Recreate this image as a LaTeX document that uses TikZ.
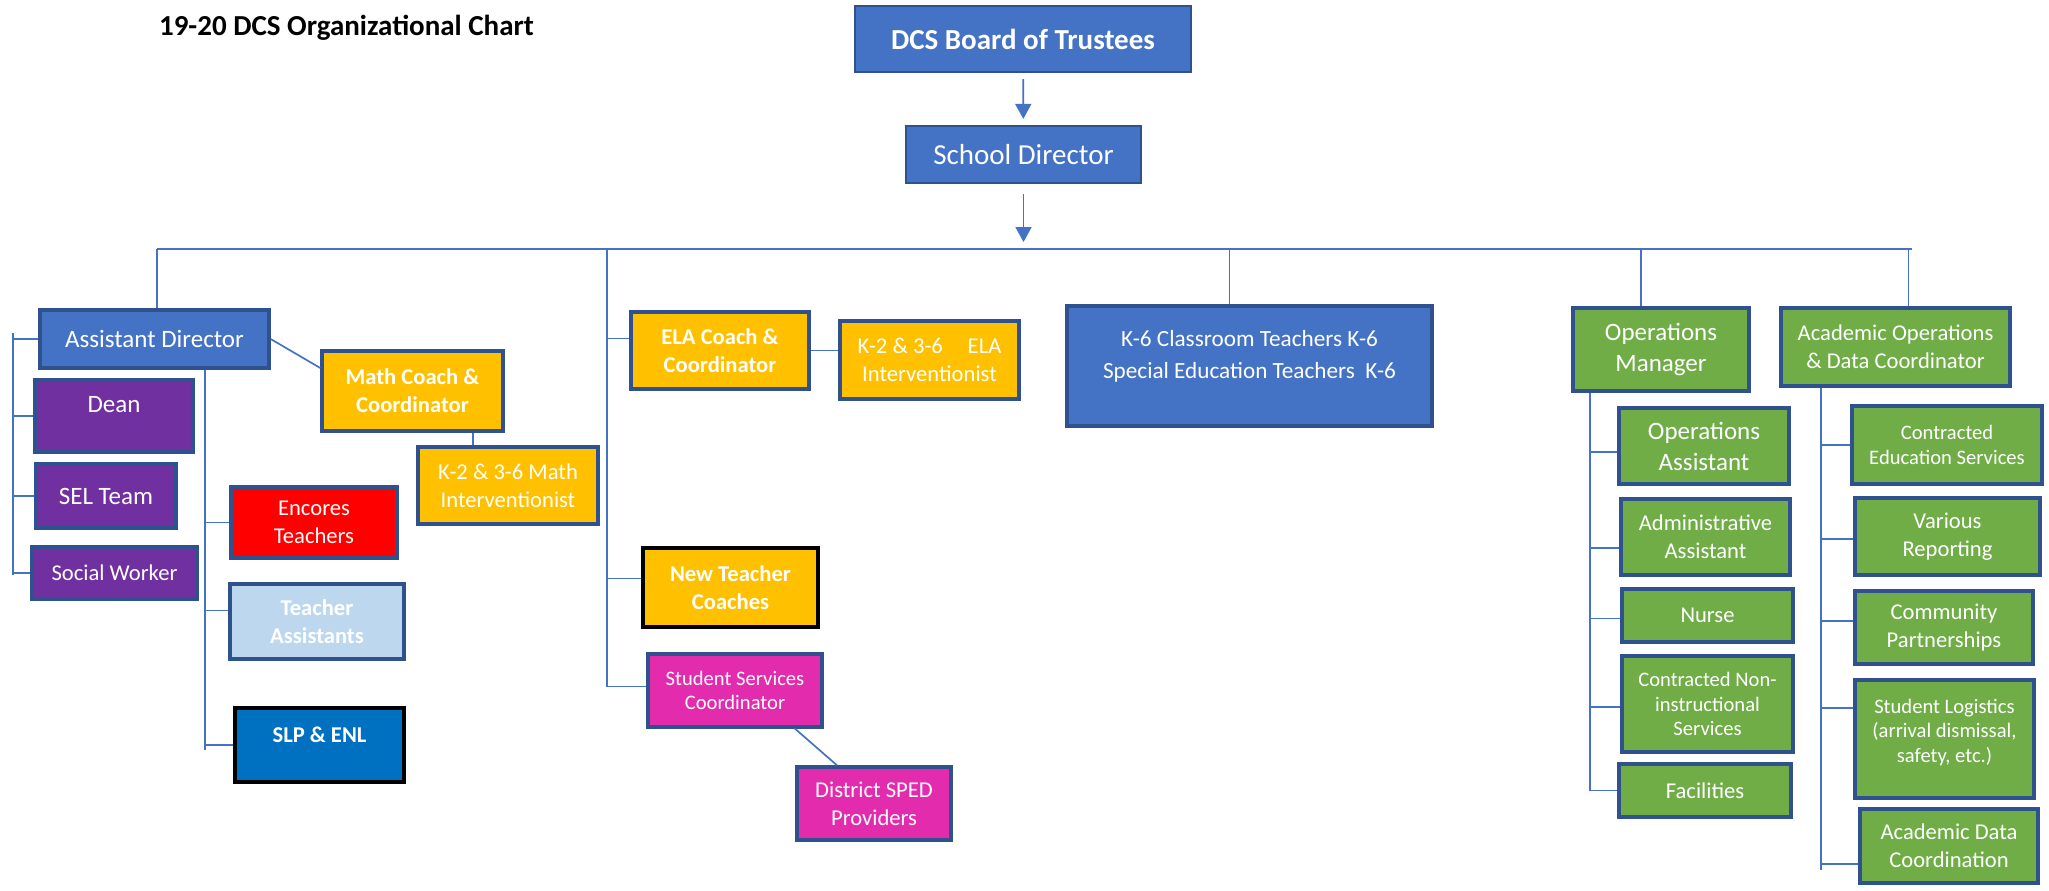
\documentclass[tikz,border=0pt]{standalone}
\usepackage{fontspec}
\setmainfont{Carlito}
\usetikzlibrary{arrows.meta}

\definecolor{ofblue}{HTML}{4472C4}
\definecolor{ofline}{HTML}{2F528F}
\definecolor{ofpurple}{HTML}{7030A0}
\definecolor{ofgold}{HTML}{FFC000}
\definecolor{ofred}{HTML}{FF0000}
\definecolor{ofpale}{HTML}{BDD7EE}
\definecolor{ofdeep}{HTML}{0070C0}
\definecolor{ofpink}{HTML}{E32BAE}
\definecolor{ofgreen}{HTML}{70AD47}

\tikzset{
  box/.style={draw=ofline, line width=1.7pt, inner sep=0pt, text=white, align=center},
  boxsize/.style 2 args={minimum width=#1pt, minimum height=#2pt},
  topbox/.style={box, fill=ofblue, line width=1.1pt},
  darkedge/.style={draw=black, line width=2.1pt},
  txtbig/.style={font=\fontsize{14.5}{18}\selectfont},
  txtbigb/.style={font=\fontsize{14.5}{18}\selectfont\bfseries},
  txtmid/.style={font=\fontsize{12.5}{15.5}\selectfont},
  txtnorm/.style={font=\fontsize{11.3}{14}\selectfont},
  txtnormb/.style={font=\fontsize{11.3}{14}\selectfont\bfseries},
  txtsmall/.style={font=\fontsize{10.3}{12.3}\selectfont},
  link/.style={draw=ofblue, line width=0.85pt},
  arr/.style={link, -{Triangle[width=8pt,length=7.5pt]}},
}

\begin{document}
\begin{tikzpicture}[x=0.5pt, y=-0.5pt]
  \useasboundingbox (0,0) rectangle (2049,890);

  % Title
  \node[anchor=base west, txtbigb] (title) at (152,35) {19-20 DCS Organizational Chart};

  % Board and director
  \node[topbox, boxsize={168}{33}, txtbigb] (board) at (1023,39) {DCS Board of Trustees};
  \node[topbox, boxsize={117.5}{28.5}, txtbig] (director) at (1023.5,154.5) {School Director};

  % Assistant director branch
  \node[box, fill=ofblue, boxsize={114.5}{29}, txtmid] (asstdir) at (154.5,339) {Assistant Director};
  \node[box, fill=ofpurple, boxsize={79}{36}, txtmid] (dean) at (114,416) {Dean\\[-4pt]\mbox{}};
  \node[box, fill=ofpurple, boxsize={70}{32}, txtmid] (sel) at (106,496) {SEL Team};
  \node[box, fill=ofpurple, boxsize={82.5}{26}, txtnorm] (social) at (114.5,573) {Social Worker};
  \node[box, fill=ofred, boxsize={83}{35.5}, txtnorm] (encores) at (314,522.5) {Encores\\Teachers};
  \node[box, fill=ofpale, boxsize={87}{37.5}, txtnormb] (teachasst) at (317,621.5) {Teacher\\Assistants};
  \node[box, fill=ofdeep, darkedge, boxsize={84.5}{37}, txtnormb] (slp) at (319.5,745) {SLP \& ENL\\[-4pt]\mbox{}};
  \node[box, fill=ofgold, boxsize={90.5}{40}, txtnormb] (mathcoach) at (412.5,391) {Math Coach \&\\Coordinator};
  \node[box, fill=ofgold, boxsize={90}{38.5}, txtnorm] (mathint) at (508,485.5) {K-2 \& 3-6 Math\\Interventionist};

  % Middle branch
  \node[box, fill=ofgold, boxsize={89}{38.5}, txtnormb] (elacoach) at (720,350.5) {ELA Coach \&\\Coordinator};
  \node[box, fill=ofgold, boxsize={89.5}{39}, txtnorm] (elaint) at (929.5,360) {K-2 \& 3-6\hspace{1.1em}ELA\\Interventionist};
  \node[box, fill=ofgold, darkedge, boxsize={87.5}{39.5}, txtnormb] (newteach) at (730.5,587.5) {New Teacher\\Coaches};
  \node[box, fill=ofpink, boxsize={87}{36.5}, txtsmall] (sscoord) at (735,690.5) {Student Services\\Coordinator};
  \node[box, fill=ofpink, boxsize={77}{36.5}, txtnorm] (sped) at (874,803.5) {District SPED\\Providers};

  % Classroom teachers
  \node[box, fill=ofblue, boxsize={182.5}{60}, font=\fontsize{11.6}{16}\selectfont] (k6) at (1249.5,366) {K-6 Classroom Teachers K-6\\Special Education Teachers~~K-6\\[-4pt]\mbox{}};

  % Operations branch
  \node[box, fill=ofgreen, boxsize={88}{41.5}, txtmid] (opsmgr) at (1661,349.5) {Operations\\Manager};
  \node[box, fill=ofgreen, boxsize={85}{38}, txtmid] (opsasst) at (1704,446) {Operations\\Assistant};
  \node[box, fill=ofgreen, boxsize={84.5}{38}, txtnorm] (admin) at (1705.5,537) {Administrative\\Assistant};
  \node[box, fill=ofgreen, boxsize={85.5}{26.5}, txtnorm] (nurse) at (1707.5,615.5) {Nurse};
  \node[box, fill=ofgreen, boxsize={85.5}{48}, txtsmall] (contnon) at (1707.5,704) {Contracted Non-\\instructional\\Services};
  \node[box, fill=ofgreen, boxsize={86}{26.5}, txtnorm] (facil) at (1705,790.5) {Facilities};

  % Academic operations branch
  \node[box, fill=ofgreen, boxsize={114.5}{39}, txtnorm] (acadops) at (1895.5,347) {Academic Operations\\\& Data Coordinator};
  \node[box, fill=ofgreen, boxsize={95}{39}, txtsmall] (contedu) at (1947,445) {Contracted\\Education Services};
  \node[box, fill=ofgreen, boxsize={92.5}{38.5}, txtnorm] (various) at (1947.5,536.5) {Various\\Reporting};
  \node[box, fill=ofgreen, boxsize={89}{36.5}, txtnorm] (community) at (1944,627.5) {Community\\Partnerships};
  \node[box, fill=ofgreen, boxsize={89.5}{59}, txtsmall] (logistics) at (1944.5,739) {Student Logistics\\(arrival dismissal,\\safety, etc.)\\[-4pt]\mbox{}};
  \node[box, fill=ofgreen, boxsize={89}{37}, txtnorm] (acaddata) at (1949,846) {Academic Data\\Coordination};

  % Bus and trunk points
  \coordinate (busL) at (157,249);
  \coordinate (busR) at (1912,249);
  \coordinate (midx) at (607,249);
  \coordinate (lbar) at (13,333);
  \coordinate (lbarend) at (13,575);
  \coordinate (atrunk) at (205,750);
  \coordinate (otrunk) at (1590,791);
  \coordinate (rtrunk) at (1821,870);

  % Arrows down
  \draw[arr, shorten <=3pt, shorten >=3pt] (board) -- (director);
  \draw[arr, shorten <=5pt, shorten >=3.5pt] (director) -- (director |- busL);

  % Bus with its drops
  \draw[link] (busL) -- (busR);
  \draw[link] (busL) -- (busL |- asstdir.north);
  \draw[link] (midx) |- ([yshift=2pt]sscoord.west);
  \draw[link] ([xshift=-10pt]k6.north) -- ([xshift=-10pt]k6.north |- busL);
  \draw[link] ([xshift=-10pt]opsmgr.north) -- ([xshift=-10pt]opsmgr.north |- busL);
  \draw[link] ([xshift=6.5pt]acadops.north) -- ([xshift=6.5pt]acadops.north |- busL);

  % Left bracket
  \draw[link] (lbar) -- (lbarend);
  \foreach \n in {asstdir,dean,sel,social}
    \draw[link] (\n.west) -- (\n.west -| lbar);

  % Under the assistant director
  \draw[link] (asstdir.south -| atrunk) -- (atrunk);
  \foreach \n/\s in {encores/0pt, teachasst/5.5pt, slp/0pt}
    \draw[link] ([yshift=\s]\n.west) -- ([yshift=\s]\n.west -| atrunk);
  \draw[link] (asstdir.east) -- ([yshift=11.5pt]mathcoach.west);
  \draw[link] ([xshift=-17.5pt]mathint.north) -- ([xshift=-17.5pt]mathint.north |- mathcoach.south);

  % Middle ticks
  \draw[link] ([yshift=6pt]elacoach.west) -- ([yshift=6pt]elacoach.west -| midx);
  \draw[link] ([yshift=4.5pt]newteach.west) -- ([yshift=4.5pt]newteach.west -| midx);
  \draw[link] (elacoach.east) -- (elacoach.east -| elaint.west);
  \draw[link] ([xshift=30pt]sscoord.south) -- ([xshift=-18.5pt]sped.north);

  % Operations trunk
  \draw[link] (opsmgr.south -| otrunk) -- (otrunk);
  \foreach \n/\s in {opsasst/-3pt, admin/-5.5pt, nurse/-1.5pt, contnon/-1.5pt, facil/0pt}
    \draw[link] ([yshift=\s]\n.west) -- ([yshift=\s]\n.west -| otrunk);

  % Academic operations trunk
  \draw[link] (acadops.south -| rtrunk) -- (rtrunk);
  \foreach \n/\s in {contedu/0pt, various/-1.25pt, community/3.25pt, logistics/15.5pt, acaddata/-9pt}
    \draw[link] ([yshift=\s]\n.west) -- ([yshift=\s]\n.west -| rtrunk);

\end{tikzpicture}
\end{document}
